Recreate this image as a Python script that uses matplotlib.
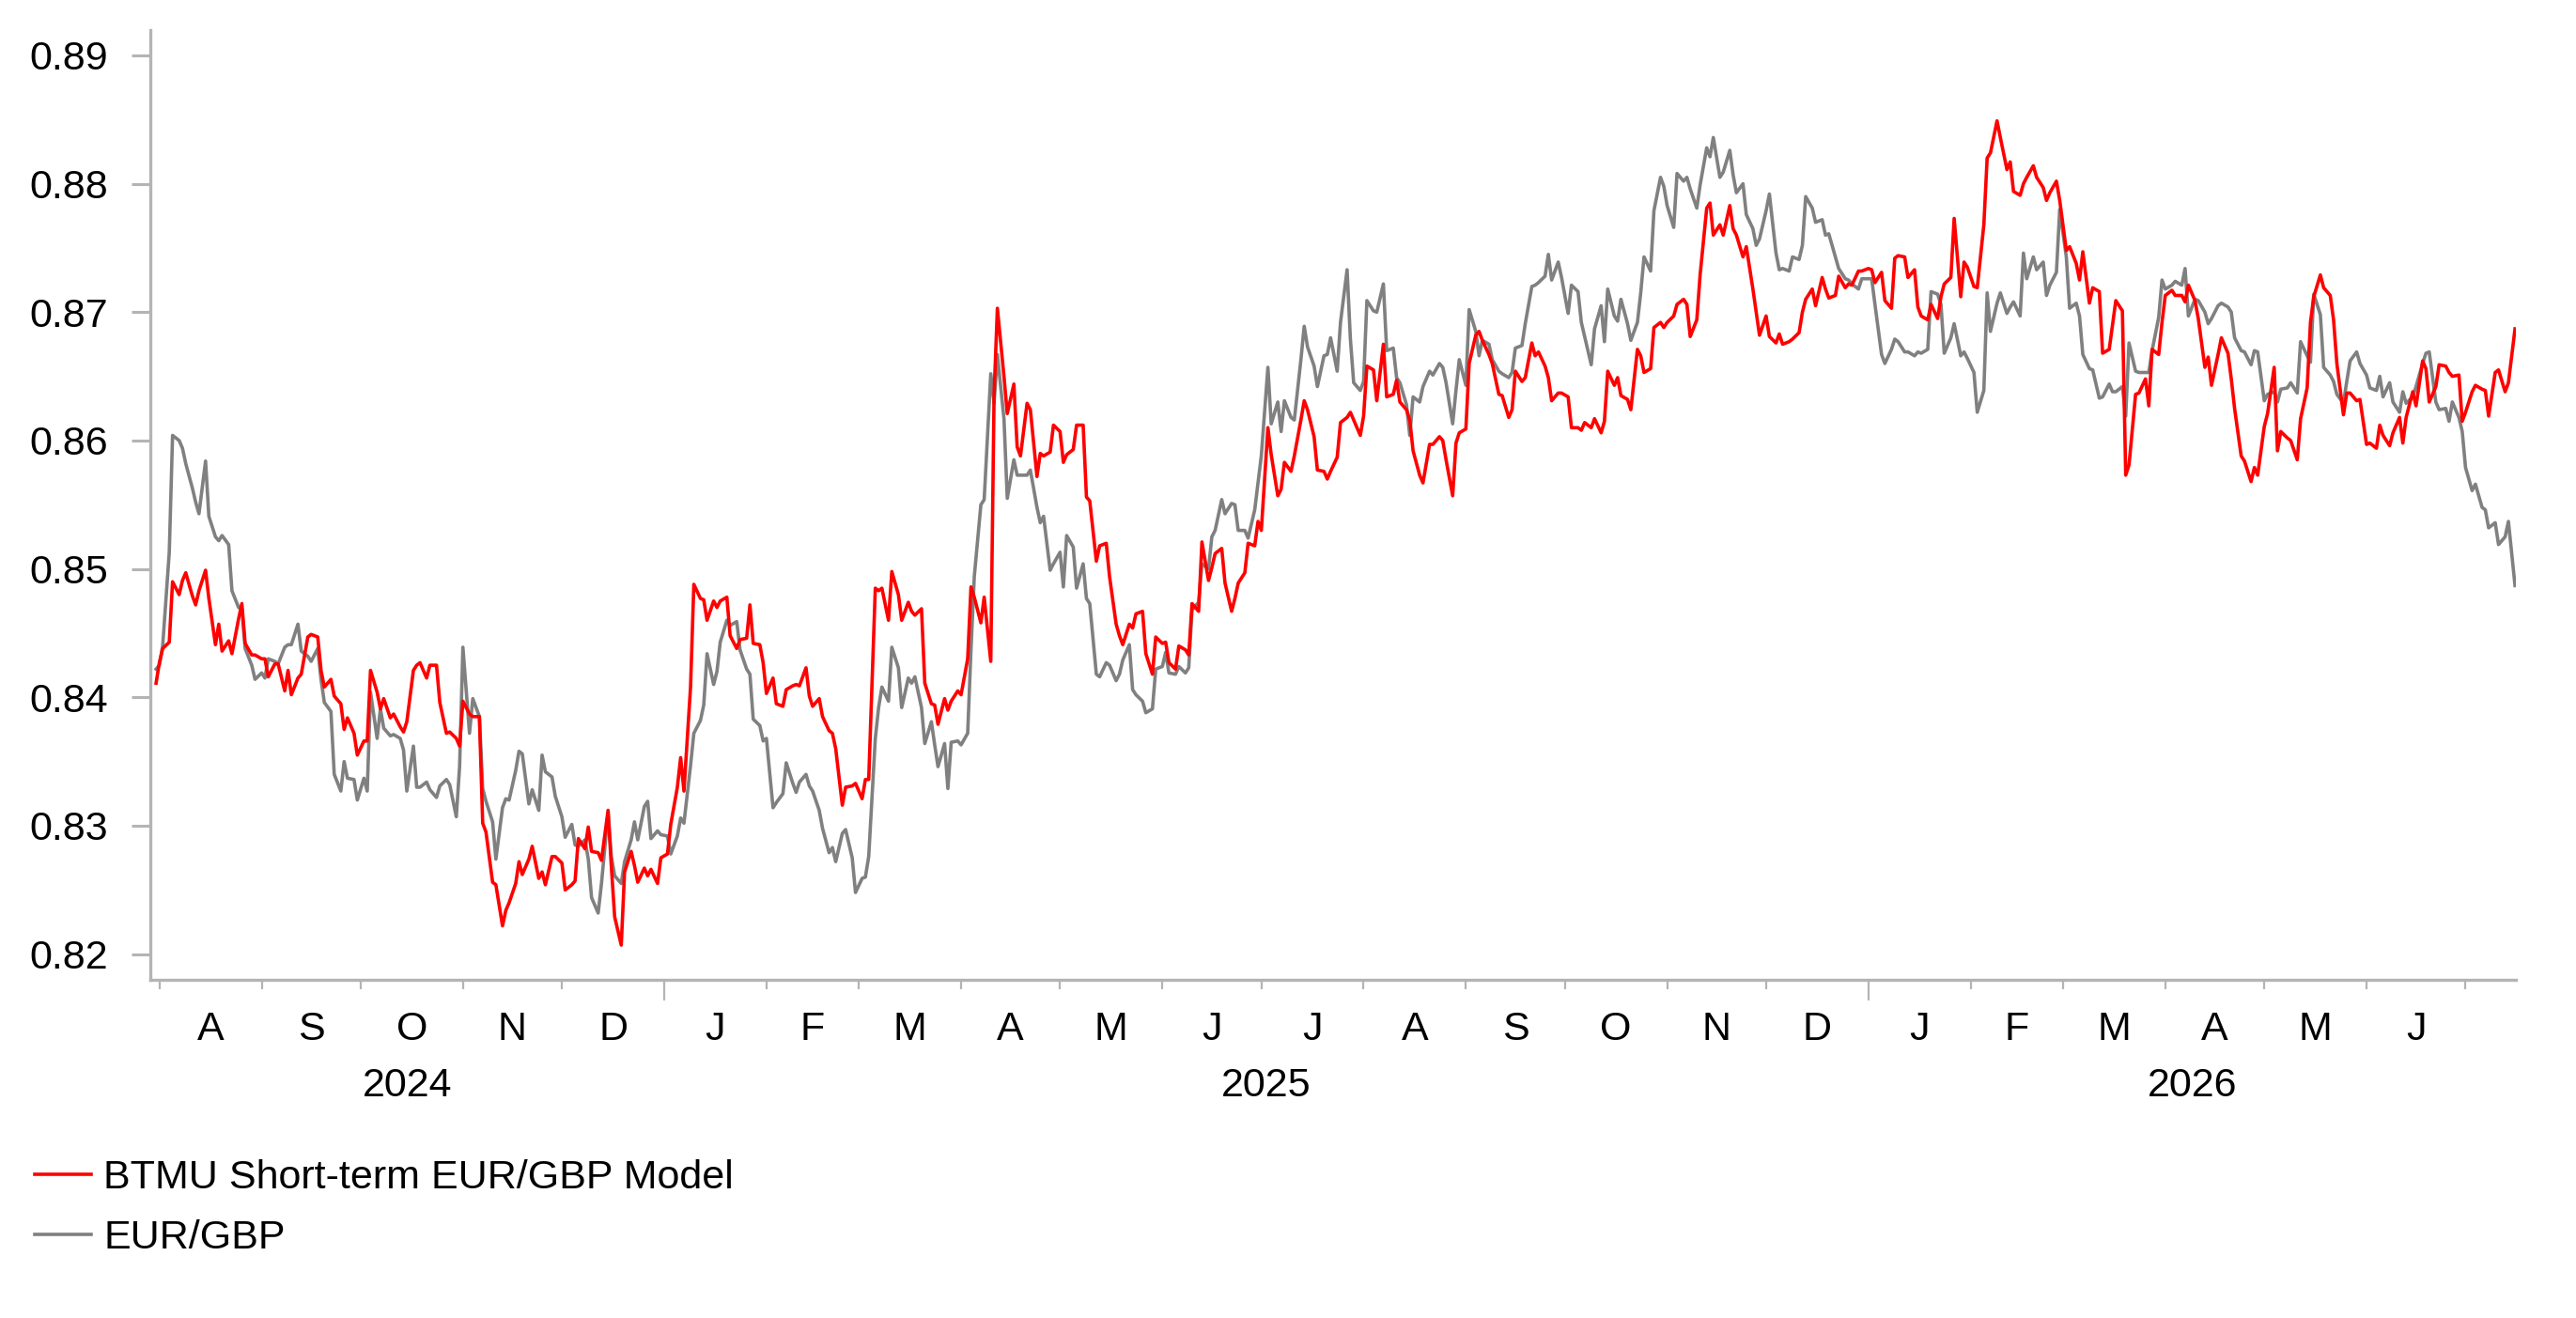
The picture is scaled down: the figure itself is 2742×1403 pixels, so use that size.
import matplotlib.pyplot as plt
import matplotlib.dates as mdates
import pandas as pd

plt.rcParams['font.family'] = ['Liberation Sans', 'DejaVu Sans']

base = pd.Timestamp('2025-01-01')
days = [
    -154, -153, -152, -150, -149, -147, -146, -145, -143, -142, -141, -139, -138, -136, -135, -134,
    -132, -131, -129, -128, -127, -125, -124, -122, -121, -120, -118, -117, -115, -114, -113, -111,
    -110, -108, -107, -105, -104, -103, -101, -100, -98, -97, -96, -94, -93, -91, -90, -89,
    -87, -86, -85, -83, -82, -80, -79, -78, -76, -75, -74, -72, -71, -69, -68, -66,
    -65, -63, -62, -61, -59, -58, -56, -55, -54, -52, -51, -49, -48, -47, -45, -44,
    -43, -41, -40, -38, -37, -36, -34, -33, -31, -30, -28, -27, -26, -24, -23, -22,
    -20, -19, -17, -16, -15, -13, -12, -10, -9, -8, -6, -5, -4, -2, -1, 1,
    2, 4, 5, 6, 8, 9, 11, 12, 13, 15, 16, 17, 19, 20, 22, 23,
    25, 26, 27, 29, 30, 31, 33, 34, 36, 37, 39, 40, 41, 43, 44, 45,
    47, 48, 50, 51, 52, 54, 55, 57, 58, 60, 61, 62, 64, 65, 66, 68,
    69, 71, 72, 74, 75, 76, 78, 79, 81, 82, 83, 85, 86, 87, 89, 90,
    92, 93, 94, 96, 97, 99, 100, 101, 103, 104, 106, 107, 108, 110, 111, 113,
    114, 115, 117, 118, 120, 121, 122, 124, 125, 127, 128, 129, 131, 132, 134, 135,
    137, 138, 139, 141, 142, 143, 145, 146, 148, 149, 151, 152, 153, 155, 156, 158,
    159, 160, 162, 163, 165, 166, 167, 169, 170, 172, 173, 174, 176, 177, 179, 180,
    181, 183, 184, 186, 187, 188, 190, 191, 193, 194, 195, 197, 198, 200, 201, 202,
    204, 205, 207, 208, 209, 211, 212, 213, 215, 216, 218, 219, 221, 222, 223, 225,
    226, 227, 229, 230, 232, 233, 235, 236, 237, 239, 240, 241, 243, 244, 246, 247,
    248, 250, 251, 253, 254, 256, 257, 258, 260, 261, 263, 264, 265, 267, 268, 269,
    271, 272, 274, 275, 277, 278, 279, 281, 282, 284, 285, 286, 288, 289, 290, 292,
    293, 295, 296, 297, 299, 300, 302, 303, 304, 306, 307, 309, 310, 311, 313, 314,
    316, 317, 318, 320, 321, 323, 324, 325, 327, 328, 330, 331, 332, 334, 335, 337,
    338, 339, 341, 342, 344, 345, 346, 348, 349, 351, 352, 353, 355, 356, 358, 359,
    360, 362, 363, 365, 366, 367, 369, 370, 372, 373, 374, 376, 377, 379, 380, 381,
    383, 384, 386, 387, 388, 390, 391, 393, 394, 395, 397, 398, 400, 401, 402, 404,
    405, 407, 408, 409, 411, 412, 413, 415, 416, 418, 419, 420, 422, 423, 425, 426,
    428, 429, 430, 432, 433, 435, 436, 438, 439, 440, 442, 443, 444, 446, 447, 449,
    450, 451, 453, 454, 455, 457, 458, 460, 461, 462, 464, 465, 467, 468, 469, 471,
    472, 474, 475, 476, 478, 479, 481, 482, 483, 485, 486, 488, 489, 490, 492, 493,
    495, 496, 498, 499, 500, 502, 503, 505, 506, 507, 509, 510, 511, 513, 514, 516,
    517, 519, 520, 521, 523, 524, 526, 527, 528, 530, 531, 533, 534, 535, 537, 538,
    540, 541, 542, 544, 545, 546, 548, 549, 551, 552, 553, 555, 556, 558, 559, 561,
]

model = [
    0.8411, 0.8427, 0.8438, 0.8443, 0.8490, 0.8480, 0.8491, 0.8497, 0.8479, 0.8472, 0.8483, 0.8499, 0.8477, 0.8441, 0.8457, 0.8436,
    0.8444, 0.8434, 0.8461, 0.8473, 0.8442, 0.8433, 0.8433, 0.8430, 0.8430, 0.8416, 0.8426, 0.8426, 0.8405, 0.8421, 0.8402, 0.8415,
    0.8418, 0.8447, 0.8449, 0.8447, 0.8421, 0.8408, 0.8414, 0.8401, 0.8395, 0.8375, 0.8384, 0.8372, 0.8355, 0.8366, 0.8366, 0.8421,
    0.8404, 0.8391, 0.8399, 0.8384, 0.8387, 0.8377, 0.8373, 0.8381, 0.8421, 0.8425, 0.8427, 0.8415, 0.8425, 0.8425, 0.8396, 0.8372,
    0.8373, 0.8368, 0.8362, 0.8397, 0.8387, 0.8385, 0.8385, 0.8302, 0.8295, 0.8256, 0.8254, 0.8222, 0.8234, 0.8240, 0.8255, 0.8272,
    0.8262, 0.8274, 0.8284, 0.8259, 0.8264, 0.8254, 0.8276, 0.8276, 0.8271, 0.8250, 0.8254, 0.8257, 0.8290, 0.8282, 0.8299, 0.8280,
    0.8279, 0.8273, 0.8312, 0.8268, 0.8229, 0.8207, 0.8264, 0.8280, 0.8269, 0.8256, 0.8267, 0.8261, 0.8266, 0.8255, 0.8275, 0.8278,
    0.8301, 0.8330, 0.8353, 0.8327, 0.8408, 0.8488, 0.8477, 0.8476, 0.8460, 0.8475, 0.8470, 0.8475, 0.8478, 0.8448, 0.8438, 0.8445,
    0.8446, 0.8472, 0.8442, 0.8441, 0.8427, 0.8403, 0.8415, 0.8395, 0.8393, 0.8406, 0.8409, 0.8410, 0.8409, 0.8423, 0.8401, 0.8393,
    0.8399, 0.8385, 0.8374, 0.8372, 0.8360, 0.8316, 0.8330, 0.8331, 0.8333, 0.8321, 0.8336, 0.8336, 0.8485, 0.8483, 0.8485, 0.8460,
    0.8498, 0.8480, 0.8460, 0.8474, 0.8467, 0.8464, 0.8469, 0.8411, 0.8395, 0.8394, 0.8379, 0.8399, 0.8390, 0.8397, 0.8405, 0.8402,
    0.8430, 0.8486, 0.8478, 0.8458, 0.8478, 0.8428, 0.8636, 0.8703, 0.8650, 0.8621, 0.8644, 0.8595, 0.8588, 0.8629, 0.8624, 0.8572,
    0.8590, 0.8588, 0.8591, 0.8612, 0.8607, 0.8583, 0.8589, 0.8593, 0.8612, 0.8612, 0.8556, 0.8553, 0.8506, 0.8518, 0.8520, 0.8494,
    0.8457, 0.8448, 0.8441, 0.8457, 0.8454, 0.8465, 0.8467, 0.8434, 0.8418, 0.8447, 0.8442, 0.8443, 0.8427, 0.8422, 0.8440, 0.8437,
    0.8433, 0.8473, 0.8467, 0.8521, 0.8491, 0.8501, 0.8512, 0.8516, 0.8489, 0.8467, 0.8477, 0.8489, 0.8497, 0.8520, 0.8518, 0.8537,
    0.8530, 0.8610, 0.8589, 0.8557, 0.8562, 0.8583, 0.8576, 0.8588, 0.8616, 0.8631, 0.8624, 0.8603, 0.8577, 0.8576, 0.8570, 0.8576,
    0.8587, 0.8614, 0.8618, 0.8622, 0.8616, 0.8604, 0.8619, 0.8658, 0.8655, 0.8631, 0.8675, 0.8634, 0.8636, 0.8647, 0.8630, 0.8624,
    0.8616, 0.8592, 0.8573, 0.8567, 0.8597, 0.8597, 0.8603, 0.8600, 0.8585, 0.8557, 0.8598, 0.8606, 0.8609, 0.8660, 0.8682, 0.8685,
    0.8678, 0.8667, 0.8660, 0.8636, 0.8635, 0.8618, 0.8624, 0.8654, 0.8646, 0.8649, 0.8676, 0.8666, 0.8669, 0.8658, 0.8649, 0.8631,
    0.8637, 0.8637, 0.8634, 0.8610, 0.8610, 0.8608, 0.8614, 0.8610, 0.8617, 0.8606, 0.8615, 0.8654, 0.8643, 0.8649, 0.8635, 0.8632,
    0.8624, 0.8671, 0.8666, 0.8653, 0.8656, 0.8688, 0.8692, 0.8688, 0.8692, 0.8697, 0.8706, 0.8710, 0.8706, 0.8681, 0.8694, 0.8729,
    0.8781, 0.8785, 0.8760, 0.8768, 0.8760, 0.8783, 0.8765, 0.8760, 0.8743, 0.8751, 0.8718, 0.8700, 0.8682, 0.8697, 0.8681, 0.8676,
    0.8683, 0.8675, 0.8677, 0.8679, 0.8684, 0.8700, 0.8710, 0.8718, 0.8705, 0.8727, 0.8718, 0.8711, 0.8713, 0.8728, 0.8719, 0.8722,
    0.8721, 0.8732, 0.8732, 0.8734, 0.8733, 0.8723, 0.8731, 0.8709, 0.8703, 0.8742, 0.8744, 0.8743, 0.8727, 0.8733, 0.8704, 0.8697,
    0.8694, 0.8706, 0.8695, 0.8712, 0.8722, 0.8727, 0.8773, 0.8712, 0.8739, 0.8735, 0.8720, 0.8719, 0.8768, 0.8820, 0.8824, 0.8849,
    0.8836, 0.8811, 0.8817, 0.8794, 0.8791, 0.8800, 0.8805, 0.8814, 0.8805, 0.8797, 0.8787, 0.8793, 0.8802, 0.8787, 0.8748, 0.8751,
    0.8738, 0.8725, 0.8747, 0.8707, 0.8719, 0.8716, 0.8668, 0.8671, 0.8690, 0.8709, 0.8701, 0.8573, 0.8581, 0.8636, 0.8637, 0.8648,
    0.8627, 0.8671, 0.8667, 0.8692, 0.8713, 0.8717, 0.8713, 0.8713, 0.8708, 0.8721, 0.8709, 0.8695, 0.8657, 0.8665, 0.8643, 0.8667,
    0.8680, 0.8668, 0.8648, 0.8625, 0.8588, 0.8584, 0.8568, 0.8579, 0.8573, 0.8611, 0.8621, 0.8657, 0.8592, 0.8607, 0.8602, 0.8600,
    0.8585, 0.8617, 0.8641, 0.8692, 0.8712, 0.8729, 0.8719, 0.8713, 0.8694, 0.8660, 0.8620, 0.8637, 0.8637, 0.8631, 0.8632, 0.8597,
    0.8598, 0.8594, 0.8612, 0.8604, 0.8596, 0.8606, 0.8618, 0.8598, 0.8618, 0.8638, 0.8627, 0.8662, 0.8656, 0.8630, 0.8642, 0.8659,
    0.8658, 0.8653, 0.8650, 0.8651, 0.8615, 0.8622, 0.8638, 0.8643, 0.8640, 0.8639, 0.8619, 0.8653, 0.8655, 0.8638, 0.8645, 0.8687,
]

eurgbp = [
    0.8422, 0.8425, 0.8440, 0.8513, 0.8604, 0.8600, 0.8594, 0.8582, 0.8563, 0.8552, 0.8543, 0.8584, 0.8541, 0.8525, 0.8522, 0.8526,
    0.8519, 0.8483, 0.8470, 0.8469, 0.8438, 0.8425, 0.8414, 0.8419, 0.8415, 0.8430, 0.8428, 0.8426, 0.8439, 0.8441, 0.8441, 0.8457,
    0.8436, 0.8432, 0.8428, 0.8438, 0.8414, 0.8396, 0.8389, 0.8340, 0.8327, 0.8350, 0.8337, 0.8336, 0.8320, 0.8337, 0.8327, 0.8404,
    0.8368, 0.8391, 0.8376, 0.8370, 0.8371, 0.8368, 0.8359, 0.8327, 0.8362, 0.8330, 0.8330, 0.8334, 0.8328, 0.8322, 0.8331, 0.8336,
    0.8332, 0.8307, 0.8346, 0.8439, 0.8372, 0.8399, 0.8385, 0.8329, 0.8319, 0.8303, 0.8274, 0.8314, 0.8321, 0.8320, 0.8343, 0.8358,
    0.8356, 0.8317, 0.8328, 0.8312, 0.8355, 0.8342, 0.8338, 0.8323, 0.8307, 0.8291, 0.8301, 0.8285, 0.8284, 0.8289, 0.8274, 0.8244,
    0.8232, 0.8255, 0.8310, 0.8276, 0.8261, 0.8255, 0.8272, 0.8289, 0.8303, 0.8289, 0.8315, 0.8319, 0.8290, 0.8296, 0.8293, 0.8292,
    0.8278, 0.8292, 0.8306, 0.8302, 0.8347, 0.8372, 0.8382, 0.8394, 0.8434, 0.8410, 0.8420, 0.8443, 0.8460, 0.8456, 0.8459, 0.8437,
    0.8422, 0.8418, 0.8383, 0.8378, 0.8366, 0.8368, 0.8314, 0.8318, 0.8325, 0.8349, 0.8333, 0.8326, 0.8334, 0.8340, 0.8331, 0.8327,
    0.8312, 0.8298, 0.8279, 0.8283, 0.8272, 0.8294, 0.8297, 0.8275, 0.8248, 0.8259, 0.8260, 0.8276, 0.8368, 0.8392, 0.8408, 0.8397,
    0.8439, 0.8423, 0.8392, 0.8415, 0.8411, 0.8416, 0.8392, 0.8364, 0.8381, 0.8363, 0.8346, 0.8364, 0.8329, 0.8365, 0.8366, 0.8363,
    0.8372, 0.8437, 0.8494, 0.8550, 0.8554, 0.8652, 0.8629, 0.8667, 0.8617, 0.8555, 0.8585, 0.8573, 0.8573, 0.8573, 0.8577, 0.8548,
    0.8536, 0.8541, 0.8499, 0.8504, 0.8513, 0.8486, 0.8526, 0.8517, 0.8485, 0.8504, 0.8477, 0.8473, 0.8418, 0.8416, 0.8427, 0.8425,
    0.8413, 0.8418, 0.8429, 0.8441, 0.8406, 0.8402, 0.8397, 0.8388, 0.8391, 0.8422, 0.8424, 0.8435, 0.8419, 0.8418, 0.8424, 0.8419,
    0.8423, 0.8468, 0.8474, 0.8504, 0.8500, 0.8525, 0.8530, 0.8554, 0.8543, 0.8551, 0.8550, 0.8530, 0.8530, 0.8524, 0.8546, 0.8567,
    0.8588, 0.8657, 0.8613, 0.8630, 0.8607, 0.8631, 0.8618, 0.8616, 0.8663, 0.8689, 0.8673, 0.8658, 0.8642, 0.8666, 0.8667, 0.8680,
    0.8654, 0.8692, 0.8733, 0.8679, 0.8645, 0.8639, 0.8646, 0.8709, 0.8701, 0.8700, 0.8722, 0.8670, 0.8672, 0.8649, 0.8645, 0.8628,
    0.8604, 0.8634, 0.8630, 0.8642, 0.8654, 0.8651, 0.8660, 0.8657, 0.8645, 0.8613, 0.8639, 0.8663, 0.8643, 0.8702, 0.8685, 0.8666,
    0.8678, 0.8675, 0.8663, 0.8654, 0.8652, 0.8649, 0.8653, 0.8672, 0.8674, 0.8691, 0.8720, 0.8721, 0.8723, 0.8728, 0.8745, 0.8725,
    0.8739, 0.8727, 0.8699, 0.8721, 0.8716, 0.8692, 0.8681, 0.8659, 0.8687, 0.8705, 0.8677, 0.8718, 0.8697, 0.8693, 0.8710, 0.8691,
    0.8678, 0.8692, 0.8715, 0.8743, 0.8732, 0.8779, 0.8805, 0.8798, 0.8783, 0.8766, 0.8808, 0.8802, 0.8805, 0.8796, 0.8781, 0.8799,
    0.8828, 0.8821, 0.8836, 0.8805, 0.8809, 0.8826, 0.8807, 0.8793, 0.8800, 0.8776, 0.8765, 0.8752, 0.8757, 0.8779, 0.8792, 0.8746,
    0.8733, 0.8734, 0.8732, 0.8743, 0.8741, 0.8752, 0.8790, 0.8781, 0.8770, 0.8772, 0.8760, 0.8761, 0.8743, 0.8734, 0.8726, 0.8725,
    0.8722, 0.8718, 0.8726, 0.8726, 0.8726, 0.8706, 0.8667, 0.8660, 0.8671, 0.8679, 0.8677, 0.8669, 0.8669, 0.8666, 0.8669, 0.8668,
    0.8671, 0.8716, 0.8714, 0.8706, 0.8668, 0.8680, 0.8691, 0.8666, 0.8669, 0.8664, 0.8653, 0.8622, 0.8639, 0.8715, 0.8685, 0.8707,
    0.8715, 0.8699, 0.8704, 0.8708, 0.8697, 0.8746, 0.8726, 0.8743, 0.8733, 0.8739, 0.8713, 0.8721, 0.8731, 0.8780, 0.8743, 0.8703,
    0.8707, 0.8697, 0.8667, 0.8656, 0.8655, 0.8633, 0.8634, 0.8644, 0.8638, 0.8638, 0.8642, 0.8619, 0.8676, 0.8654, 0.8653, 0.8653,
    0.8653, 0.8670, 0.8696, 0.8725, 0.8718, 0.8721, 0.8724, 0.8721, 0.8734, 0.8697, 0.8710, 0.8709, 0.8700, 0.8691, 0.8695, 0.8705,
    0.8707, 0.8704, 0.8700, 0.8680, 0.8670, 0.8669, 0.8659, 0.8670, 0.8669, 0.8631, 0.8636, 0.8638, 0.8630, 0.8640, 0.8641, 0.8645,
    0.8637, 0.8677, 0.8666, 0.8661, 0.8714, 0.8698, 0.8657, 0.8651, 0.8646, 0.8636, 0.8629, 0.8646, 0.8662, 0.8669, 0.8660, 0.8651,
    0.8641, 0.8639, 0.8650, 0.8634, 0.8645, 0.8630, 0.8622, 0.8638, 0.8629, 0.8634, 0.8642, 0.8660, 0.8668, 0.8669, 0.8630, 0.8624,
    0.8625, 0.8615, 0.8630, 0.8618, 0.8607, 0.8579, 0.8561, 0.8566, 0.8548, 0.8546, 0.8532, 0.8536, 0.8519, 0.8525, 0.8537, 0.8487,
]

series_names = ['BTMU Short-term EUR/GBP Model', 'EUR/GBP']
month_labels = ['A', 'S', 'O', 'N', 'D', 'J', 'F', 'M', 'A', 'M', 'J', 'J',
                'A', 'S', 'O', 'N', 'D', 'J', 'F', 'M', 'A', 'M', 'J']
year_labels = ['2024', '2025', '2026']
y_ticks = [0.82, 0.83, 0.84, 0.85, 0.86, 0.87, 0.88, 0.89]

dates = base + pd.to_timedelta(days, unit='D')
x_start = pd.Timestamp('2024-07-29 07:00')
x_end = pd.Timestamp('2026-07-16 07:00')

axis_grey = '#b4b4b4'
fs = 15.5

fig = plt.figure(figsize=(13.71, 7.015), dpi=200)
ax = fig.add_axes([0.0584, 0.2566, 0.9183, 0.7209])

ax.plot(dates, eurgbp, color='#808080', lw=1.3, label=series_names[1], zorder=2)
ax.plot(dates, model, color='#ff0000', lw=1.3, label=series_names[0], zorder=3)

ax.set_xlim(x_start, x_end)
ax.set_ylim(0.818, 0.892)

for side in ['top', 'right']:
    ax.spines[side].set_visible(False)
for side in ['left', 'bottom']:
    ax.spines[side].set_color(axis_grey)
    ax.spines[side].set_linewidth(1.2)

ax.set_yticks(y_ticks)
ax.set_yticklabels([f'{v:.2f}' for v in y_ticks])
ax.tick_params(axis='y', length=7.2, width=1.1, color=axis_grey, pad=9, labelsize=fs)

# month ticks (minor) and year boundaries (major, longer)
ax.xaxis.set_major_locator(mdates.YearLocator())
ax.xaxis.set_minor_locator(mdates.MonthLocator())
ax.xaxis.set_major_formatter(plt.NullFormatter())
ax.tick_params(axis='x', which='major', length=8, width=0.8, color=axis_grey)
ax.tick_params(axis='x', which='minor', length=3.6, width=0.8, color=axis_grey)

trans = ax.get_xaxis_transform()
month_starts = pd.date_range('2024-08-01', '2026-06-01', freq='MS')
for m, lab in zip(month_starts, month_labels):
    mid = m + (m + pd.offsets.MonthBegin(1) - m) / 2
    ax.text(mid, -0.0524, lab, transform=trans, ha='center', va='center', fontsize=fs)

year_bounds = [x_start, pd.Timestamp('2025-01-01'), pd.Timestamp('2026-01-01'), x_end]
for i, lab in enumerate(year_labels):
    mid = year_bounds[i] + (year_bounds[i + 1] - year_bounds[i]) / 2
    ax.text(mid, -0.1117, lab, transform=trans, ha='center', va='center', fontsize=fs)

handles, labels = ax.get_legend_handles_labels()
ax.legend(handles[::-1], labels[::-1], loc='upper left', bbox_to_anchor=(0.0135, 0.1204),
          bbox_transform=fig.transFigure, frameon=False, fontsize=fs, handlelength=1.4,
          handletextpad=0.3, labelspacing=0.56, borderpad=0, borderaxespad=0)

fig.savefig('out.png', dpi=200)
